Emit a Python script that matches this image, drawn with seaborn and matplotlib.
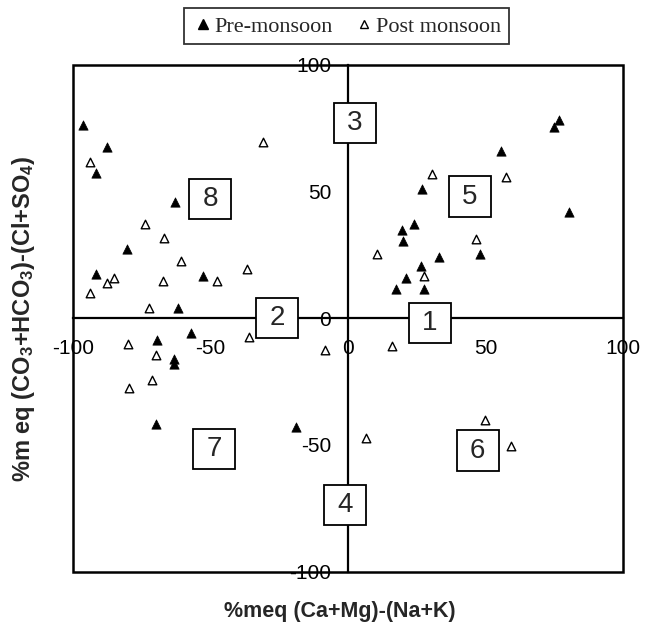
import matplotlib
matplotlib.use("Agg")
import matplotlib.pyplot as plt
from matplotlib import font_manager
from matplotlib.lines import Line2D
from matplotlib.patches import Rectangle
import seaborn as sns
import pandas as pd

# ---- data ----
pre_x = [-96.2, -87.7, -91.4, -63.0, -80.2, -91.4, -52.6, -61.8,
         76.7, 74.9, 55.5, 80.1, 26.8, 23.8, 19.5, 19.9, 33.1, 48.0, 26.4, 21.0, 17.3, 27.6,
         -57.2, -69.3, -63.3, -63.3, -69.6, -19.0]
pre_y = [76.3, 67.7, 57.2, 45.7, 27.3, 17.4, 16.7, 4.2,
         78.0, 75.3, 65.9, 41.7, 51.0, 37.2, 34.8, 30.6, 24.2, 25.5, 20.7, 16.0, 11.7, 11.5,
         -5.7, -8.7, -16.2, -18.2, -41.9, -43.0]
post_x = [-93.6, -30.8, -73.9, -66.7, -60.8, -36.8, -85.1, -87.7, -67.1, -47.7, -93.6, -72.4,
          30.4, 57.3, 46.4, 10.4, 27.6,
          -36.0, -80.0, -69.6, -8.4, -71.1, -79.4,
          16.1, 49.7, 6.4, 59.2]
post_y = [61.5, 69.4, 37.2, 31.5, 22.6, 19.4, 16.0, 13.7, 14.7, 14.7, 10.1, 4.2,
          56.9, 55.8, 31.2, 25.5, 16.7,
          -7.4, -10.3, -14.6, -12.5, -24.5, -27.4,
          -10.9, -40.3, -47.2, -50.5]
series_names = ["Pre-monsoon", "Post monsoon"]
zone_labels = ["1", "2", "3", "4", "5", "6", "7", "8"]
zone_x = [29.7, -25.7, 2.4, -1.2, 44.2, 47.1, -48.7, -50.0]
zone_y = [-1.9, 0.2, 77.0, -73.7, 48.0, -52.2, -51.7, 47.0]
ticks = [-100, -50, 0, 50, 100]
xlabel = "%meq (Ca+Mg)-(Na+K)"
ylabel = "%m eq (CO$_3$+HCO$_3$)-(Cl+SO$_4$)"

sns.set_style("white")

avail = {f.name for f in font_manager.fontManager.ttflist}
narrow = "Liberation Sans Narrow" if "Liberation Sans Narrow" in avail else "Liberation Sans"
plt.rcParams['font.family'] = ["Liberation Sans", "DejaVu Sans"]
plt.rcParams['mathtext.fontset'] = 'custom'
plt.rcParams['mathtext.rm'] = 'Liberation Sans:bold'
plt.rcParams['mathtext.it'] = 'Liberation Sans:bold'
plt.rcParams['mathtext.bf'] = 'Liberation Sans:bold'

df_pre = pd.DataFrame({"x": pre_x, "y": pre_y})
df_post = pd.DataFrame({"x": post_x, "y": post_y})

fig = plt.figure(figsize=(6.47, 6.25), dpi=100)
ax = fig.add_axes([0.1124, 0.0853, 0.8510, 0.8112])

sns.scatterplot(data=df_pre, x="x", y="y", marker="^", s=45, color="black",
                edgecolor="black", linewidth=0.5, ax=ax, zorder=3, legend=False)
sns.scatterplot(data=df_post, x="x", y="y", marker="^", s=38, color="white",
                edgecolor="black", linewidth=1.0, ax=ax, zorder=3, legend=False)

ax.set_xlim(-100, 100)
ax.set_ylim(-100, 100)
ax.set_xticks(ticks)
ax.set_yticks(ticks)
ax.set_xticklabels([str(t) for t in ticks])
ax.set_yticklabels([str(t) for t in ticks])

for side in ["left", "bottom"]:
    ax.spines[side].set_position(("data", 0))
    ax.spines[side].set_linewidth(1.6)
    ax.spines[side].set_color("black")
for side in ["top", "right"]:
    ax.spines[side].set_visible(False)
ax.add_patch(Rectangle((0, 0), 1, 1, transform=ax.transAxes, fill=False,
                       edgecolor="black", linewidth=1.8, clip_on=False, zorder=5))

ax.tick_params(axis="both", direction="out", length=6, width=1.2, colors="black",
               labelsize=15)
ax.tick_params(axis="x", pad=9)
ax.tick_params(axis="y", pad=6)
for lab in ax.get_xticklabels() + ax.get_yticklabels():
    lab.set_fontfamily(narrow)
ax.set_xlabel("")
ax.set_ylabel("")

# zone boxes
bw, bh = 15.3, 15.8
for lab, zx, zy in zip(zone_labels, zone_x, zone_y):
    ax.add_patch(Rectangle((zx - bw / 2, zy - bh / 2), bw, bh, facecolor="white",
                           edgecolor="black", linewidth=1.3, zorder=6, clip_on=False))
    ax.text(zx, zy, lab, ha="center", va="center", fontsize=20, family=narrow,
            zorder=7)

fig.text(0.525, 0.021, xlabel, ha="center", va="center", fontsize=15.5, fontweight="bold")
fig.text(0.037, 0.49, ylabel, ha="center", va="center", rotation=90, fontsize=17,
         fontweight="bold")

handles = [Line2D([], [], marker="^", linestyle="none", markersize=7,
                  markerfacecolor="black", markeredgecolor="black"),
           Line2D([], [], marker="^", linestyle="none", markersize=6,
                  markerfacecolor="white", markeredgecolor="black", markeredgewidth=1.0)]
leg = fig.legend(handles, series_names, loc="center", bbox_to_anchor=(0.5356, 0.958),
                 ncol=2, frameon=True, fancybox=False, edgecolor="black",
                 prop={"family": "Liberation Serif", "size": 16},
                 handletextpad=0.05, columnspacing=0.9, handlelength=1.0,
                 borderpad=0.35, borderaxespad=0)
leg.get_frame().set_linewidth(1.3)

fig.savefig("out.png", dpi=100)
